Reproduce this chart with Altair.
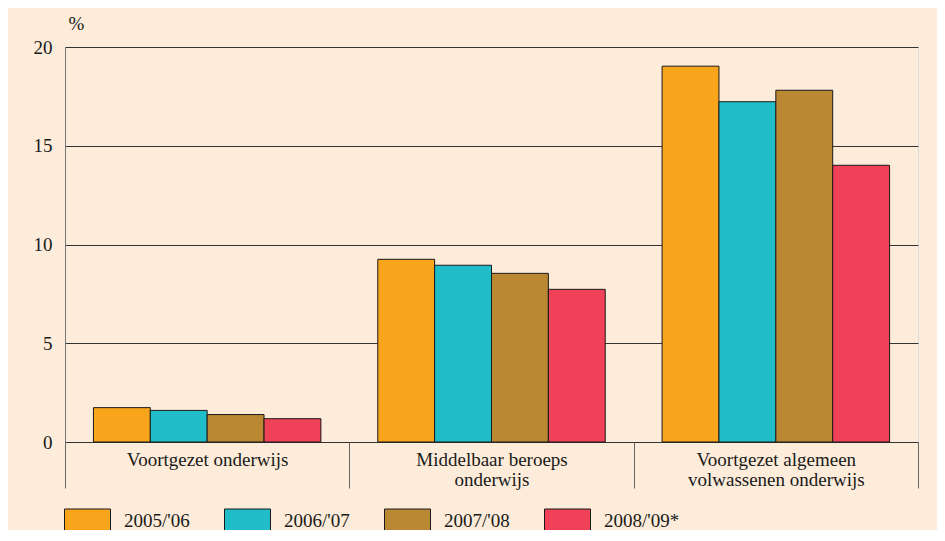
import altair as alt
import pandas as pd

categories = [
    "Voortgezet onderwijs",
    "Middelbaar beroeps onderwijs",
    "Voortgezet algemeen volwassenen onderwijs",
]
label_lines = {
    "Voortgezet onderwijs": ["Voortgezet onderwijs"],
    "Middelbaar beroeps onderwijs": ["Middelbaar beroeps", "onderwijs"],
    "Voortgezet algemeen volwassenen onderwijs": ["Voortgezet algemeen", "volwassenen onderwijs"],
}
years = ["2005/'06", "2006/'07", "2007/'08", "2008/'09*"]
v_2005_06 = [1.74, 9.25, 19.03]
v_2006_07 = [1.60, 8.95, 17.23]
v_2007_08 = [1.39, 8.54, 17.81]
v_2008_09 = [1.18, 7.73, 14.01]
colors = ["#F8A51C", "#20BDC8", "#BA8733", "#EF4157"]
y_ticks = [0, 5, 10, 15, 20]

series = [v_2005_06, v_2006_07, v_2007_08, v_2008_09]
rows = []
for yr, vals in zip(years, series):
    for cat, v in zip(categories, vals):
        rows.append({"categorie": cat, "jaar": yr, "waarde": v})
df = pd.DataFrame(rows)

def js_list(lines):
    return "[" + ", ".join("'" + s + "'" for s in lines) + "]"

label_expr = ""
for cat in categories:
    label_expr += "datum.value == '" + cat + "' ? " + js_list(label_lines[cat]) + " : "
label_expr += "datum.label"

FONT = "Liberation Serif"
TXT = "#1a1a1a"
FS = 19

chart = alt.Chart(df).mark_bar(stroke="#1a1a1a", strokeWidth=1).encode(
    x=alt.X(
        "categorie:N",
        sort=categories,
        scale=alt.Scale(paddingInner=0, paddingOuter=0),
        axis=alt.Axis(
            title=None,
            labelExpr=label_expr,
            labelAngle=0,
            tickBand="extent",
            tickSize=46,
            tickColor="#666666",
            tickWidth=1,
            domain=False,
            labelPadding=-38,
            labelFont=FONT,
            labelFontSize=FS,
            labelColor=TXT,
            labelLineHeight=20,
            labelBaseline="top",
            labelLimit=300,
        ),
    ),
    xOffset=alt.XOffset(
        "jaar:N", sort=years, scale=alt.Scale(paddingInner=0, paddingOuter=0.5)
    ),
    y=alt.Y(
        "waarde:Q",
        scale=alt.Scale(domain=[0, 20], nice=False),
        axis=alt.Axis(
            title="%",
            titleAngle=0,
            titleAlign="left",
            titleBaseline="alphabetic",
            titleX=3,
            titleY=-18,
            titleFont=FONT,
            titleFontSize=FS,
            titleFontWeight="normal",
            titleColor=TXT,
            values=y_ticks,
            grid=True,
            gridColor="#333333",
            gridWidth=1,
            ticks=False,
            domainColor="#777777",
            labelPadding=13,
            labelFont=FONT,
            labelFontSize=FS,
            labelColor=TXT,
        ),
    ),
    fill=alt.Fill(
        "jaar:N",
        sort=years,
        scale=alt.Scale(domain=years, range=colors),
        legend=alt.Legend(
            title=None,
            orient="none",
            legendX=-1,
            legendY=450,
            direction="horizontal",
            columns=4,
            symbolType="M-1,-0.5H1V0.5H-1Z",
            symbolSize=2116,
            symbolStrokeColor="#1a1a1a",
            symbolStrokeWidth=1,
            symbolOpacity=1,
            labelOffset=13,
            columnPadding=32,
            labelFont=FONT,
            labelFontSize=FS,
            labelColor=TXT,
        ),
    ),
).properties(
    width=853,
    height=395,
    autosize=alt.AutoSizeParams(type="none"),
    padding={"left": 57, "top": 39, "right": 19, "bottom": 88},
    background="#FDECD9",
).configure_view(
    fill="white", stroke="#000000", strokeWidth=1
).configure(font=FONT)

chart.save("out.html", embed_options={"renderer": "svg", "actions": False})
